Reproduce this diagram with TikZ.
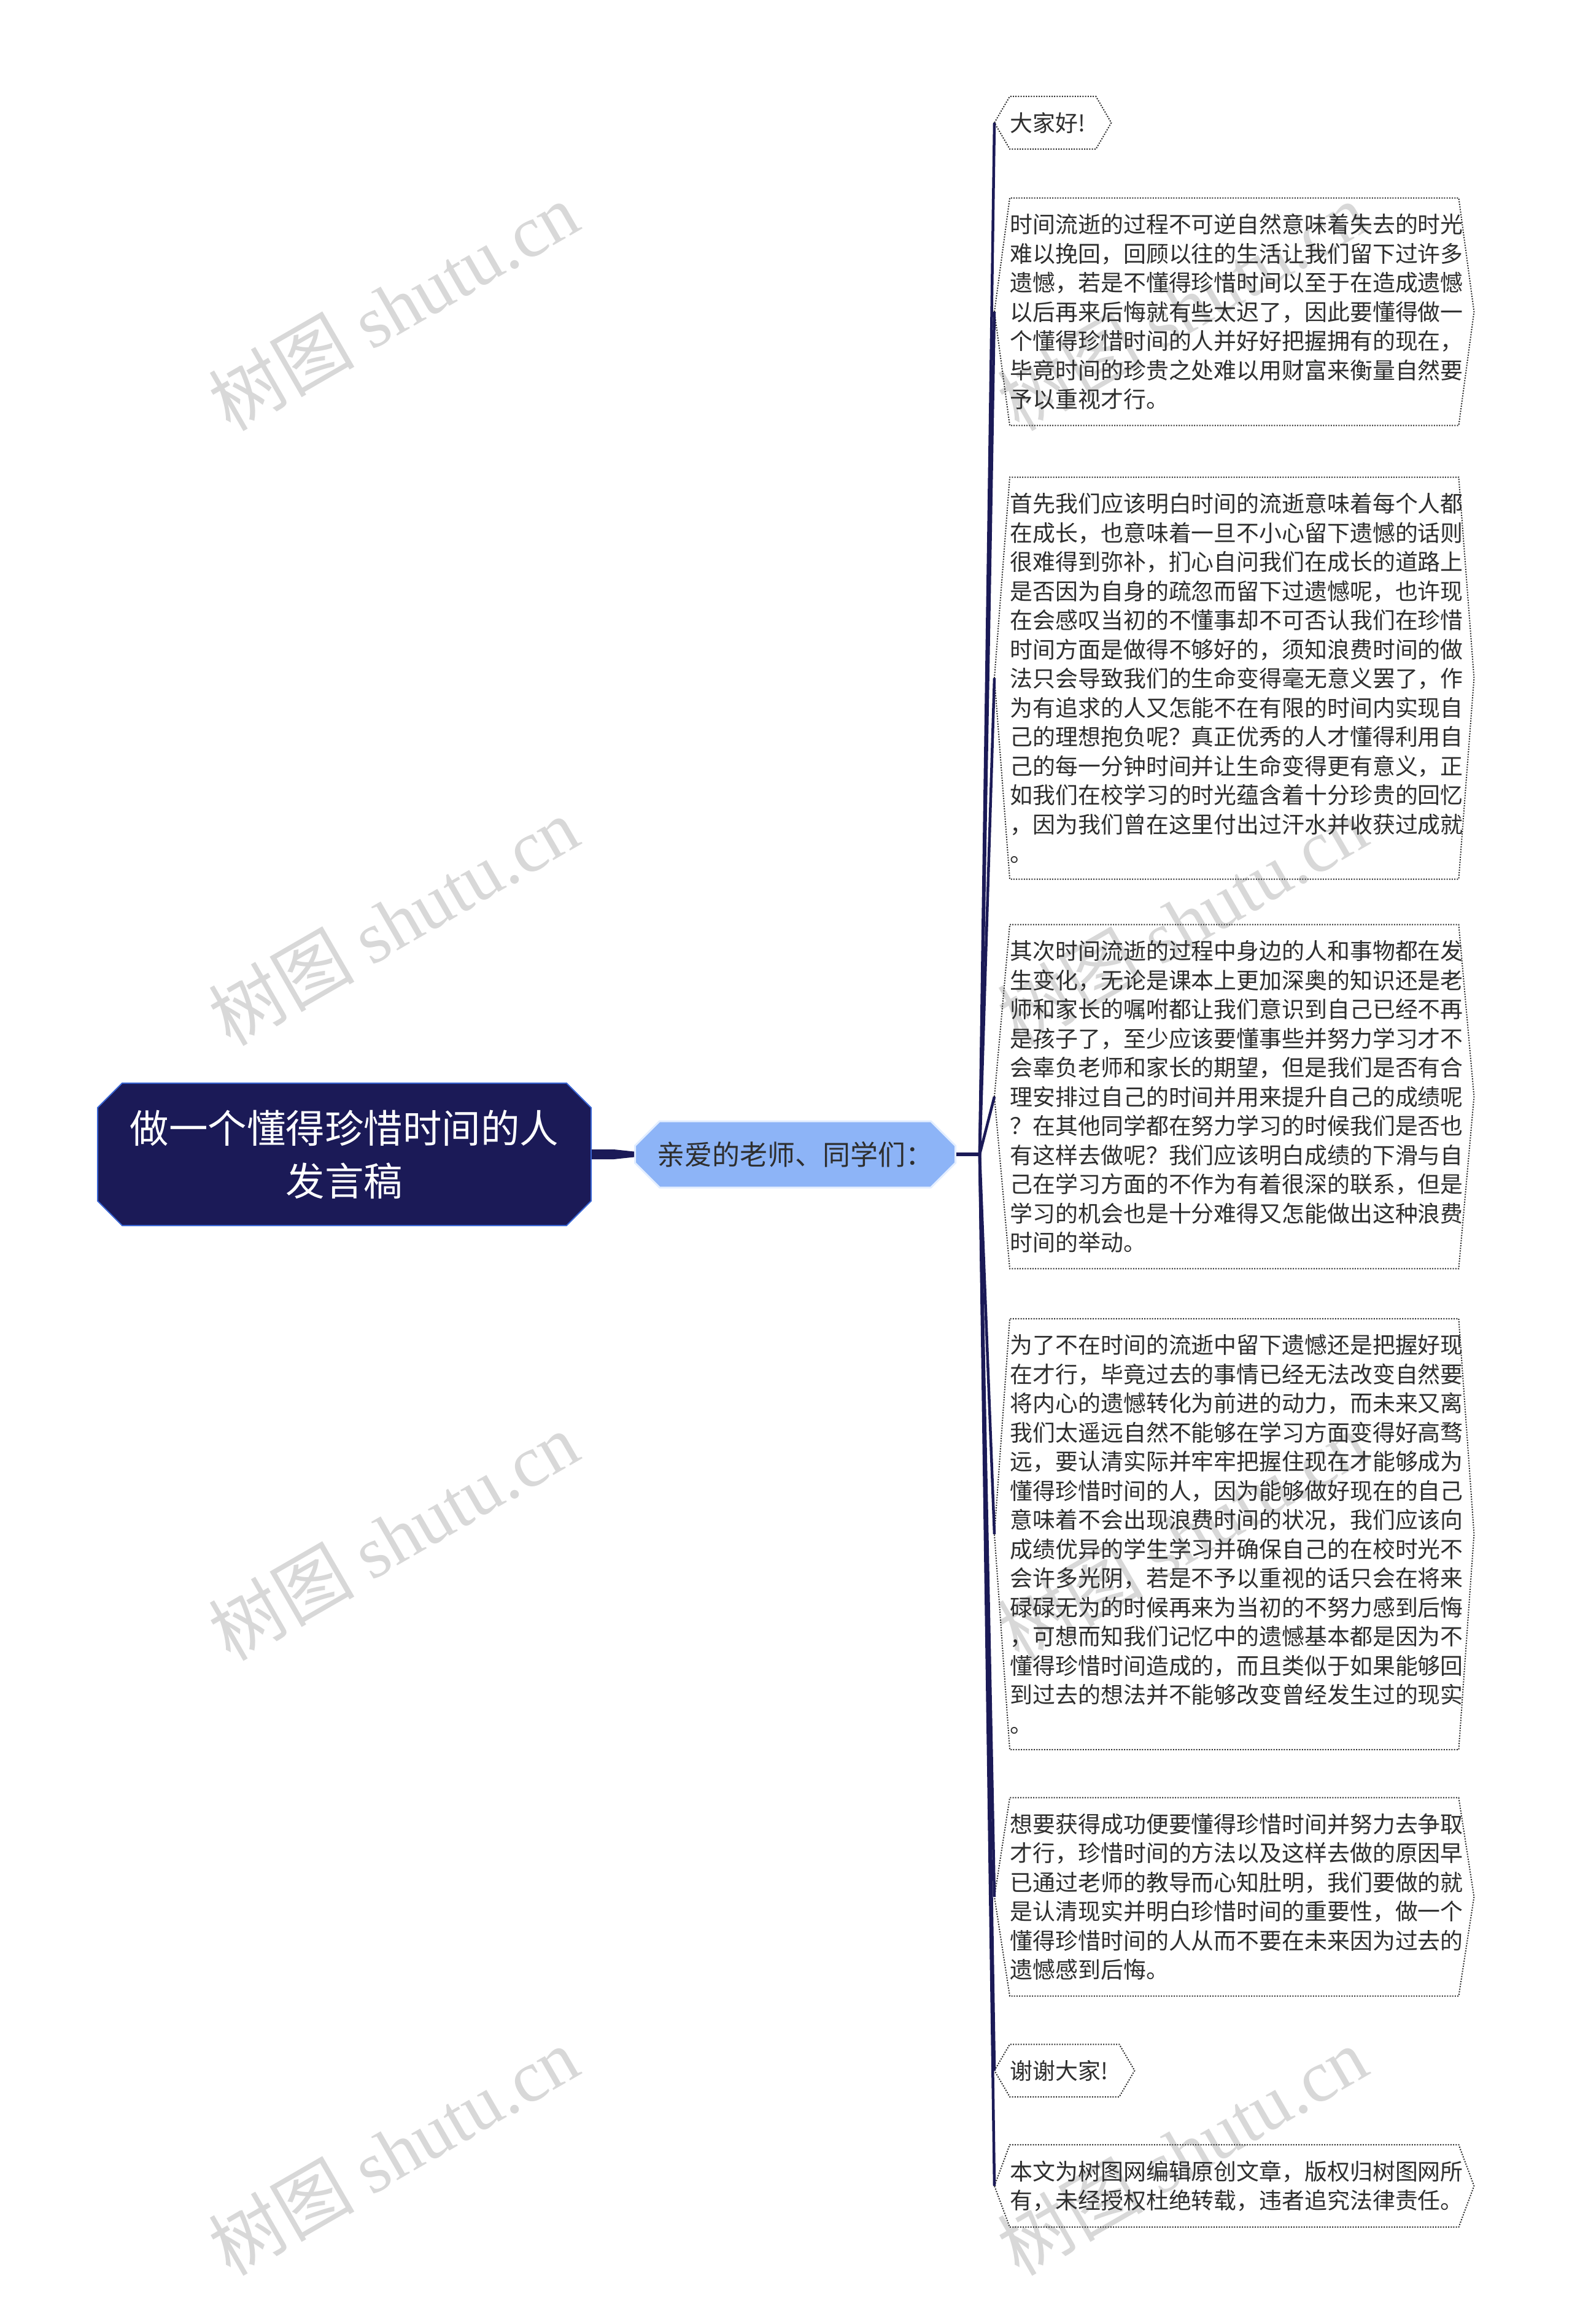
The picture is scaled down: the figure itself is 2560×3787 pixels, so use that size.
\documentclass[tikz,border=0pt]{standalone}
\usepackage{fontspec}
\setmainfont{Noto Sans CJK SC}
\newfontfamily\wmlatin{Liberation Serif}
\usetikzlibrary{positioning,shapes.misc}
\definecolor{navy}{HTML}{1B1A57}
\definecolor{rootline}{HTML}{3A66D4}
\definecolor{childfill}{HTML}{8DB4F7}
\definecolor{childline}{HTML}{E3EEFF}
\definecolor{leaftext}{HTML}{2E2E2E}
\definecolor{wmgrey}{HTML}{D8D8D8}
\begin{document}
\begin{tikzpicture}[x=0.1mm, y=-0.1mm, node distance={6.9mm},
    root/.style = {chamfered rectangle, chamfered rectangle xsep=2mm, chamfered rectangle ysep=2mm,
      fill=navy, draw=rootline, line width=0.2mm, text=white, minimum width=80.4mm, minimum height=23.2mm,
      text width=72mm, align=center, font=\fontsize{6.35mm}{8.6mm}\selectfont},
    sub/.style = {chamfered rectangle, chamfered rectangle xsep=2mm, chamfered rectangle ysep=2mm,
      fill=childfill, draw=childline, line width=0.3mm, text=leaftext, minimum width=52.2mm, minimum height=10.8mm,
      font=\fontsize{4.5mm}{5.5mm}\selectfont},
    leaf/.style = {anchor=west, inner xsep=0pt, inner ysep=2.5mm, text width=73mm, align=left,
      text=leaftext, font=\fontsize{3.69mm}{4.75mm}\selectfont},
    rim/.style = {draw=leaftext, line width=0.2mm, dash pattern=on 0.2mm off 0.22mm},
    branch/.style = {draw=navy, line width=0.45mm},
    wmark/.style = {text=wmgrey, rotate=30, font=\fontsize{11.9mm}{11.9mm}\selectfont}]
    \useasboundingbox[fill=white] (0,0) rectangle (2560,3787);
    \foreach \wy [count=\i] in {499,1501,2503,3505} {
      \node[wmark] (wl\i) at (641,\wy) {树图 {\wmlatin shutu.cn}};
      \node[wmark] (wr\i) at (1926,\wy) {树图 {\wmlatin shutu.cn}};
    }
    \node[root] (title) at (561,1881) {做一个懂得珍惜时间的人\\发言稿};
    \node[sub] (greet) [right=of title] {亲爱的老师、同学们：};
    \coordinate[right=3.8mm of greet] (jn);
    \node[leaf, text width=13.9mm] (hi) at (1645,200) {大家好!};
    \node[leaf] (p1) at (1645,508) {时间流逝的过程不可逆自然意味着失去的时光\\难以挽回，回顾以往的生活让我们留下过许多\\遗憾，若是不懂得珍惜时间以至于在造成遗憾\\以后再来后悔就有些太迟了，因此要懂得做一\\个懂得珍惜时间的人并好好把握拥有的现在，\\毕竟时间的珍贵之处难以用财富来衡量自然要\\予以重视才行。};
    \node[leaf] (p2) at (1645,1105) {首先我们应该明白时间的流逝意味着每个人都\\在成长，也意味着一旦不小心留下遗憾的话则\\很难得到弥补，扪心自问我们在成长的道路上\\是否因为自身的疏忽而留下过遗憾呢，也许现\\在会感叹当初的不懂事却不可否认我们在珍惜\\时间方面是做得不够好的，须知浪费时间的做\\法只会导致我们的生命变得毫无意义罢了，作\\为有追求的人又怎能不在有限的时间内实现自\\己的理想抱负呢？真正优秀的人才懂得利用自\\己的每一分钟时间并让生命变得更有意义，正\\如我们在校学习的时光蕴含着十分珍贵的回忆\\，因为我们曾在这里付出过汗水并收获过成就\\。};
    \node[leaf] (p3) at (1645,1787) {其次时间流逝的过程中身边的人和事物都在发\\生变化，无论是课本上更加深奥的知识还是老\\师和家长的嘱咐都让我们意识到自己已经不再\\是孩子了，至少应该要懂事些并努力学习才不\\会辜负老师和家长的期望，但是我们是否有合\\理安排过自己的时间并用来提升自己的成绩呢\\？在其他同学都在努力学习的时候我们是否也\\有这样去做呢？我们应该明白成绩的下滑与自\\己在学习方面的不作为有着很深的联系，但是\\学习的机会也是十分难得又怎能做出这种浪费\\时间的举动。};
    \node[leaf] (p4) at (1645,2500) {为了不在时间的流逝中留下遗憾还是把握好现\\在才行，毕竟过去的事情已经无法改变自然要\\将内心的遗憾转化为前进的动力，而未来又离\\我们太遥远自然不能够在学习方面变得好高骛\\远，要认清实际并牢牢把握住现在才能够成为\\懂得珍惜时间的人，因为能够做好现在的自己\\意味着不会出现浪费时间的状况，我们应该向\\成绩优异的学生学习并确保自己的在校时光不\\会许多光阴，若是不予以重视的话只会在将来\\碌碌无为的时候再来为当初的不努力感到后悔\\，可想而知我们记忆中的遗憾基本都是因为不\\懂得珍惜时间造成的，而且类似于如果能够回\\到过去的想法并不能够改变曾经发生过的现实\\。};
    \node[leaf] (p5) at (1645,3091) {想要获得成功便要懂得珍惜时间并努力去争取\\才行，珍惜时间的方法以及这样去做的原因早\\已通过老师的教导而心知肚明，我们要做的就\\是认清现实并明白珍惜时间的重要性，做一个\\懂得珍惜时间的人从而不要在未来因为过去的\\遗憾感到后悔。};
    \node[leaf, text width=17.7mm] (thx) at (1645,3374) {谢谢大家!};
    \node[leaf] (note) at (1645,3562) {本文为树图网编辑原创文章，版权归树图网所\\有，未经授权杜绝转载，违者追究法律责任。};
    \fill[navy] ([yshift=0.8mm]title.east) -- ([xshift=-3.3mm,yshift=0.8mm]greet.west) -- ([yshift=0.45mm]greet.west)
      -- ([yshift=-0.45mm]greet.west) -- ([xshift=-3.3mm,yshift=-0.8mm]greet.west) -- ([yshift=-0.8mm]title.east) -- cycle;
    \draw[navy, line width=0.6mm] (greet.east) -- (jn);
    \foreach \n in {hi,p1,p2,p3,p4,p5,thx,note} {
      \draw[rim] ([xshift=-2.5mm]\n.west) -- (\n.north west) -- (\n.north east) -- ([xshift=2.5mm]\n.east)
        -- (\n.south east) -- (\n.south west) -- cycle;
      \draw[branch] (jn) -- ([xshift=-2.5mm]\n.west);
    }
\end{tikzpicture}
\end{document}
